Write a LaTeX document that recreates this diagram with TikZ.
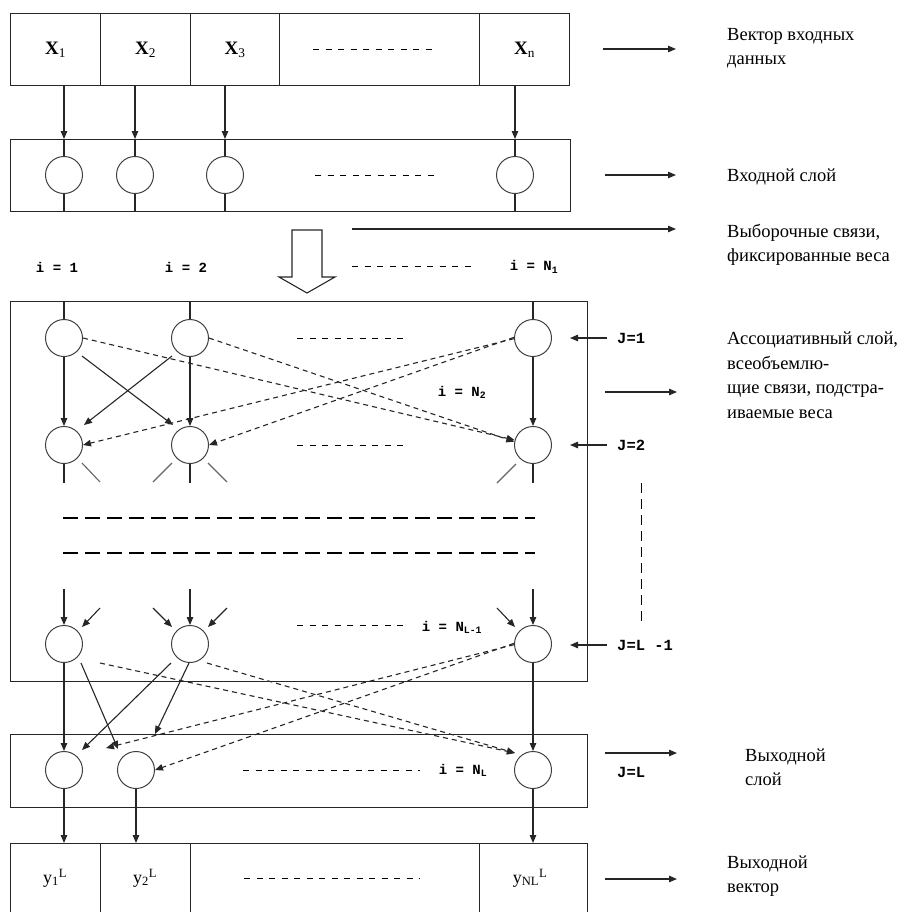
\documentclass[tikz,border=0pt]{standalone}
\usepackage{fontspec}
\setmainfont{Liberation Serif}
\setmonofont{Liberation Mono}
\usetikzlibrary{arrows.meta,calc}

\newcommand{\xlab}[1]{\textbf{X}\textsubscript{#1}}
\newcommand{\ylab}[1]{y\textsubscript{#1}\textsuperscript{L}}

\tikzset{
  >={Triangle[length=8pt,width=6.5pt]},
  box/.style={draw=black!85,line width=1.3pt,inner sep=0pt,anchor=north west},
  cell/.style={box,minimum height=72pt,font=\fontsize{19}{19}\selectfont},
  neuron/.style={circle,draw=black!75,line width=1pt,minimum size=37pt,inner sep=0pt},
  link/.style={line width=1.1pt,draw=black!85},
  dlink/.style={link,dash pattern=on 5pt off 4pt},
  sepdash/.style={line width=1pt,dash pattern=on 6pt off 6.5pt},
  bigdash/.style={line width=1.5pt,dash pattern=on 15pt off 7pt},
  vdash/.style={line width=1pt,dash pattern=on 10pt off 6pt},
  desc/.style={anchor=west,align=left,inner sep=0pt,font=\fontsize{18.5}{24.5}\selectfont},
  ilab/.style={inner sep=0pt,font=\ttfamily\bfseries\fontsize{14}{14}\selectfont},
  jlab/.style={anchor=west,inner sep=0pt,font=\ttfamily\bfseries\fontsize{15.5}{16}\selectfont},
}

\begin{document}
\begin{tikzpicture}[x=1pt,y=-1pt]
\clip (0,0) rectangle (913,911);

% input vector
\node[cell,minimum width=90pt] (x1) at (10,13) {\xlab{1}};
\node[cell,minimum width=90pt] (x2) at (100,13) {\xlab{2}};
\node[cell,minimum width=89pt] (x3) at (190,13) {\xlab{3}};
\node[cell,minimum width=200pt] (xd) at (279,13) {};
\node[cell,minimum width=90pt] (xn) at (479,13) {\xlab{n}};
\draw[sepdash] ([xshift=34]xd.west) -- ([xshift=-44]xd.east);

% input layer
\node[box,minimum width=560pt,minimum height=72pt] (inl) at (10,139) {};
\node[neuron] (n1) at (64,175) {};
\node[neuron] (n2) at (135,175) {};
\node[neuron] (n3) at (225,175) {};
\node[neuron] (nn) at (515,175) {};
\draw[sepdash] (315,175) -- (437,175);
\foreach \n in {n1,n2,n3,nn} {
  \draw[link,->] (\n |- x1.south) -- (\n |- inl.north);
  \draw[link] (\n |- inl.north) -- (\n.north);
  \draw[link] (\n.south) -- (\n |- inl.south);
}

% layer indices
\node[ilab] (i1) at (57,267) {i = 1};
\node[ilab] (i2) at (186,267) {i = 2};
\node[ilab] (iN1) at (534,267) {i = N\textsubscript{1}};
\draw[sepdash] (352,266) -- (472,266);
\draw[line width=1.1pt,draw=black!85] (292,230) -- (292,277) -- (279,277) -- (307,293)
  -- (335,277) -- (322,277) -- (322,230) -- cycle;

% associative layer
\node[box,minimum width=577pt,minimum height=380pt] (assoc) at (10,301) {};
\node[neuron] (a11) at (64,338) {};
\node[neuron] (a12) at (190,338) {};
\node[neuron] (a1n) at (533,338) {};
\node[neuron] (a21) at (64,445) {};
\node[neuron] (a22) at (190,445) {};
\node[neuron] (a2n) at (533,445) {};
\node[neuron] (b1) at (64,644) {};
\node[neuron] (b2) at (190,644) {};
\node[neuron] (bn) at (533,644) {};

\foreach \n in {a11,a12,a1n}
  \draw[link] (\n |- assoc.north) -- (\n.north);
\foreach \t/\b in {a11/a21,a12/a22,a1n/a2n}
  \draw[link,->] (\t.south) -- (\b.north);
\draw[link,->] ($(a11)+(18,18)$) -- ($(a22)+(-17,-20)$);
\draw[link,->] ($(a12)+(-18,18)$) -- ($(a21)+(20,-20)$);
\draw[dlink,->] (a11.east) -- (a2n.165);
\draw[dlink,->] (a12.east) -- (a2n.170);
\draw[dlink,->] (a1n.182) -- (a21.east);
\draw[dlink,->] (a1n.178) -- (a22.east);

% stubs under J=2
\draw[link] (a21.south) -- ++(0,19);
\draw[link,black!60] ($(a21)+(18,18)$) -- ($(a21)+(36,37)$);
\draw[link,black!60] ($(a22)+(-18,18)$) -- ($(a22)+(-37,37)$);
\draw[link] (a22.south) -- ++(0,19);
\draw[link,black!60] ($(a22)+(18,18)$) -- ($(a22)+(37,37)$);
\draw[link,black!60] ($(a2n)+(-17,19)$) -- ($(a2n)+(-36,38)$);
\draw[link] (a2n.south) -- ++(0,19);

\draw[sepdash] (297,338) -- (404,338);
\draw[sepdash] (297,445) -- (404,445);
\node[ilab] (iN2) at (462,392) {i = N\textsubscript{2}};
\draw[bigdash] (63,518) -- (535,518);
\draw[bigdash] (63,553) -- (535,553);

% inputs of J=L-1
\draw[link,<-] (b1.north) -- ++(0,-36);
\draw[link,<-] ($(b1)+(18,-17)$) -- ($(b1)+(36,-36)$);
\draw[link,<-] ($(b2)+(-18,-17)$) -- ($(b2)+(-37,-36)$);
\draw[link,<-] (b2.north) -- ++(0,-36);
\draw[link,<-] ($(b2)+(18,-17)$) -- ($(b2)+(37,-36)$);
\draw[link,<-] ($(bn)+(-18,-17)$) -- ($(bn)+(-36,-36)$);
\draw[link,<-] (bn.north) -- ++(0,-36);
\draw[sepdash] (297,625) -- (405,625);
\node[ilab] (iNL1) at (452,627) {i = N\textsubscript{L-1}};

% output layer
\node[box,minimum width=577pt,minimum height=73pt] (outl) at (10,734) {};
\node[neuron] (o1) at (64,770) {};
\node[neuron] (o2) at (136,770) {};
\node[neuron] (on) at (533,770) {};
\draw[link,->] (b1.south) -- (o1.north);
\draw[link,->] ($(b1)+(17,19)$) -- ($(o2)+(-18,-21)$);
\draw[link,->] ($(b2)+(-19,19)$) -- ($(o1)+(18,-20)$);
\draw[link,->] ($(b2)+(-1,19)$) -- ($(o2)+(19,-36)$);
\draw[link,->] (bn.south) -- (on.north);
\draw[dlink,->] ($(b1)+(36,19)$) -- ($(on)+(-18,-17)$);
\draw[dlink,->] ($(b2)+(17,19)$) -- ($(on)+(-18,-17)$);
\draw[dlink,->] (bn.182) -- ($(o2)+(-30,-22)$);
\draw[dlink,->] (bn.178) -- (o2.east);
\draw[sepdash] (243,770) -- (420,770);
\node[ilab] (iNL) at (463,770) {i = N\textsubscript{L}};

% output vector
\node[cell,minimum width=90pt,minimum height=80pt] (y1) at (10,843) {};
\node[cell,minimum width=90pt,minimum height=80pt] (y2) at (100,843) {};
\node[cell,minimum width=289pt,minimum height=80pt] (yd) at (190,843) {};
\node[cell,minimum width=108pt,minimum height=80pt] (yn) at (479,843) {};
\node[font=\fontsize{18}{18}\selectfont] (y1t) at (55,878) {\ylab{1}};
\node[font=\fontsize{18}{18}\selectfont] (y2t) at (145,878) {\ylab{2}};
\node[font=\fontsize{18}{18}\selectfont] (ynt) at (530,878) {\ylab{NL}};
\draw[sepdash] (244,878) -- (420,878);
\foreach \n in {o1,o2,on}
  \draw[link,->] (\n.south) -- (\n |- y1.north);

% J labels
\node[jlab] (j1) at (617,338) {J=1};
\node[jlab] (j2) at (617,445) {J=2};
\node[jlab] (jl1) at (617,645) {J=L -1};
\node[jlab] (jl) at (617,772) {J=L};
\draw[link,->] ([xshift=-10]j1.west) -- ++(-37,0);
\draw[link,->] ([xshift=-10]j2.west) -- ++(-37,0);
\draw[link,->] ([xshift=-10]jl1.west) -- ++(-37,0);
\draw[vdash] (641,483) -- (641,625);

% descriptions
\node[desc] (tvec) at (727,48) {Вектор входных\\данных};
\node[desc] (tin) at (727,177) {Входной слой};
\node[desc] (tsel) at (727,245) {Выборочные связи,\\фиксированные веса};
\node[desc] (tassoc) at (727,375) {Ассоциативный слой,\\всеобъемлю-\\щие связи, подстра-\\иваемые веса};
\node[desc] (tout) at (745,767) {Выходной\\слой};
\node[desc] (tvout) at (727,876) {Выходной\\вектор};
\draw[link,->] ([xshift=-124,yshift=-1]tvec.west) -- ++(73,0);
\draw[link,->] ([xshift=-122,yshift=2]tin.west) -- ++(71,0);
\draw[link,->] ([xshift=-375,yshift=16]tsel.west) -- ++(324,0);
\draw[link,->] ([xshift=-122,yshift=-17]tassoc.west) -- ++(72,0);
\draw[link,->] ([xshift=-140,yshift=14]tout.west) -- ++(72,0);
\draw[link,->] ([xshift=-122,yshift=-3]tvout.west) -- ++(72,0);
\end{tikzpicture}
\end{document}
